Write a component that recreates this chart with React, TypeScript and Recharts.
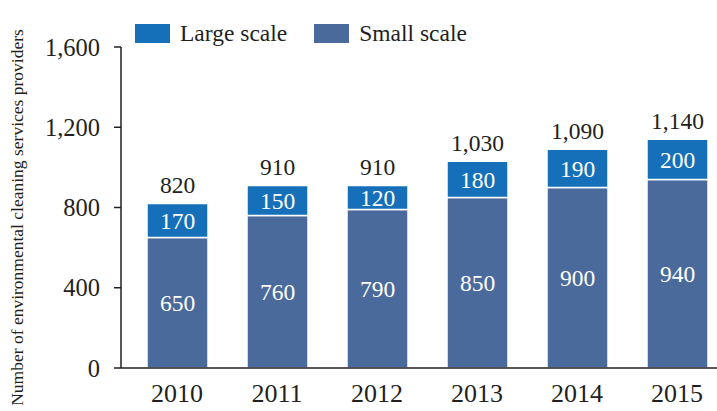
import { BarChart, Bar, XAxis, YAxis, LabelList } from 'recharts';

const years = ['2010', '2011', '2012', '2013', '2014', '2015'];
const smallScale = [650, 760, 790, 850, 900, 940];
const largeScale = [170, 150, 120, 180, 190, 200];
const totals = [820, 910, 910, 1030, 1090, 1140];
const yTicks = [0, 400, 800, 1200, 1600];

const LARGE = '#1570b9';
const SMALL = '#4a6a9c';
const INK = '#231f20';
const FONT = '"Liberation Serif", "Times New Roman", serif';

const data = years.map((year, i) => ({
  year,
  small: smallScale[i],
  large: largeScale[i],
  total: totals[i],
}));

const fmt = (v: unknown) => Number(v).toLocaleString('en-US');

function LegendOverlay() {
  const items = [
    { name: 'Large scale', color: LARGE },
    { name: 'Small scale', color: SMALL },
  ];
  return (
    <div
      style={{
        position: 'absolute',
        left: 135,
        top: 20,
        display: 'flex',
        alignItems: 'center',
        fontFamily: FONT,
        fontSize: 23.5,
        color: INK,
      }}
    >
      {items.map((it, i) => (
        <div key={it.name} style={{ display: 'flex', alignItems: 'center', marginRight: i === 0 ? 27 : 0 }}>
          <span style={{ display: 'inline-block', width: 35, height: 19, background: it.color, marginRight: 10 }} />
          <span>{it.name}</span>
        </div>
      ))}
    </div>
  );
}

export default function App() {
  return (
    <div
      style={{
        position: 'absolute',
        left: 0,
        top: 0,
        width: 717,
        height: 411,
        overflow: 'hidden',
        background: '#fff',
      }}
    >
      <BarChart
        width={730}
        height={411}
        data={data}
        margin={{ top: 47, right: 0, left: 0, bottom: 0 }}
        style={{ fontFamily: FONT }}
      >
        <XAxis
          dataKey="year"
          height={43}
          padding={{ left: 6, right: 3 }}
          tickLine={false}
          tickSize={0}
          tickMargin={16}
          axisLine={{ stroke: INK, strokeWidth: 1.5 }}
          tick={{ fontSize: 26, fill: INK, fontFamily: FONT }}
        />
        <YAxis
          width={121}
          domain={[0, 1600]}
          ticks={yTicks}
          tickFormatter={fmt}
          tickSize={7}
          tickMargin={14}
          axisLine={{ stroke: INK, strokeWidth: 1.5 }}
          tickLine={{ stroke: INK, strokeWidth: 1.5 }}
          tick={{ fontSize: 24.5, fill: INK, fontFamily: FONT }}
          label={{
            value: 'Number of environmental cleaning services providers',
            angle: -90,
            position: 'insideLeft',
            dx: 12,
            dy: 10,
            style: { textAnchor: 'middle', fontSize: 17.5, fill: INK, fontFamily: FONT },
          }}
        />
        <Bar dataKey="small" stackId="a" fill={SMALL} stroke="#fff" strokeWidth={1.5} barSize={61} isAnimationActive={false}>
          <LabelList dataKey="small" position="center" fill="#fff" fontSize={23.5} fontFamily={FONT} />
        </Bar>
        <Bar dataKey="large" stackId="a" fill={LARGE} stroke="#fff" strokeWidth={1.5} barSize={61} isAnimationActive={false}>
          <LabelList dataKey="large" position="center" fill="#fff" fontSize={23.5} fontFamily={FONT} />
          <LabelList dataKey="total" position="top" offset={10} fill={INK} fontSize={23.5} fontFamily={FONT} formatter={fmt} />
        </Bar>
      </BarChart>
      <LegendOverlay />
    </div>
  );
}
